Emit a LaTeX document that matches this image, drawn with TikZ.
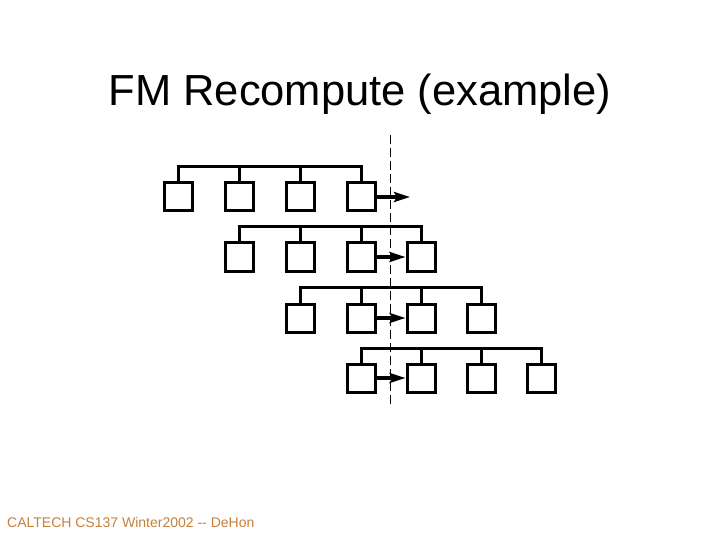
\documentclass[tikz,border=0pt]{standalone}
\usepackage{fontspec}
\setmainfont{Liberation Sans}
\usetikzlibrary{arrows.meta}
\definecolor{foot}{HTML}{C4803A}
\begin{document}
\begin{tikzpicture}[x=1bp,y=-1bp,
  cell/.style={draw,line width=3bp,minimum size=28bp,inner sep=0pt},
  bus/.style={line width=3bp},
  mv/.style={line width=3.2bp,-{Stealth[length=16bp,width=10bp,inset=3bp]}},
  cut/.style={line width=0.9bp,dash pattern=on 9bp off 4bp}]
\useasboundingbox (0,0) rectangle (720,540);
\node[font=\fontsize{43.5bp}{48bp}\selectfont,anchor=base,inner sep=0pt] (title) at (360,106) {FM Recompute (example)};
% row 1
\foreach \i/\x in {1/178,2/239,3/300,4/361}{\node[cell] (a\i) at (\x,197) {};}
% row 2
\foreach \i/\x in {1/239,2/300,3/361,4/421}{\node[cell] (b\i) at (\x,257) {};}
% row 3
\foreach \i/\x in {1/300,2/361,3/421,4/481}{\node[cell] (c\i) at (\x,318) {};}
% row 4
\foreach \i/\x in {1/361,2/421,3/481,4/541}{\node[cell] (d\i) at (\x,378) {};}
% buses
\foreach \r/\y in {a/167,b/227,c/287,d/348}{
  \draw[bus] (\r1.north) |- (\r4.north |- 0,\y) -- (\r4.north);
  \draw[bus] (\r2.north) -- (\r2.north |- 0,\y);
  \draw[bus] (\r3.north) -- (\r3.north |- 0,\y);
}
% cut line
\coordinate (ct) at (390,135);
\coordinate (cb) at (390,405);
\draw[cut] (ct) -- (cb);
% moves
\coordinate (aend) at (410,197);
\draw[mv] (a4.east) -- (aend);
\draw[mv] (b3.east) -- (b4.west);
\draw[mv] (c2.east) -- (c3.west);
\draw[mv] (d1.east) -- (d2.west);
\node[font=\fontsize{14bp}{16bp}\selectfont,text=foot,anchor=base west,inner sep=0pt] (foot) at (7,527) {CALTECH CS137 Winter2002 -{}- DeHon};
\end{tikzpicture}
\end{document}
